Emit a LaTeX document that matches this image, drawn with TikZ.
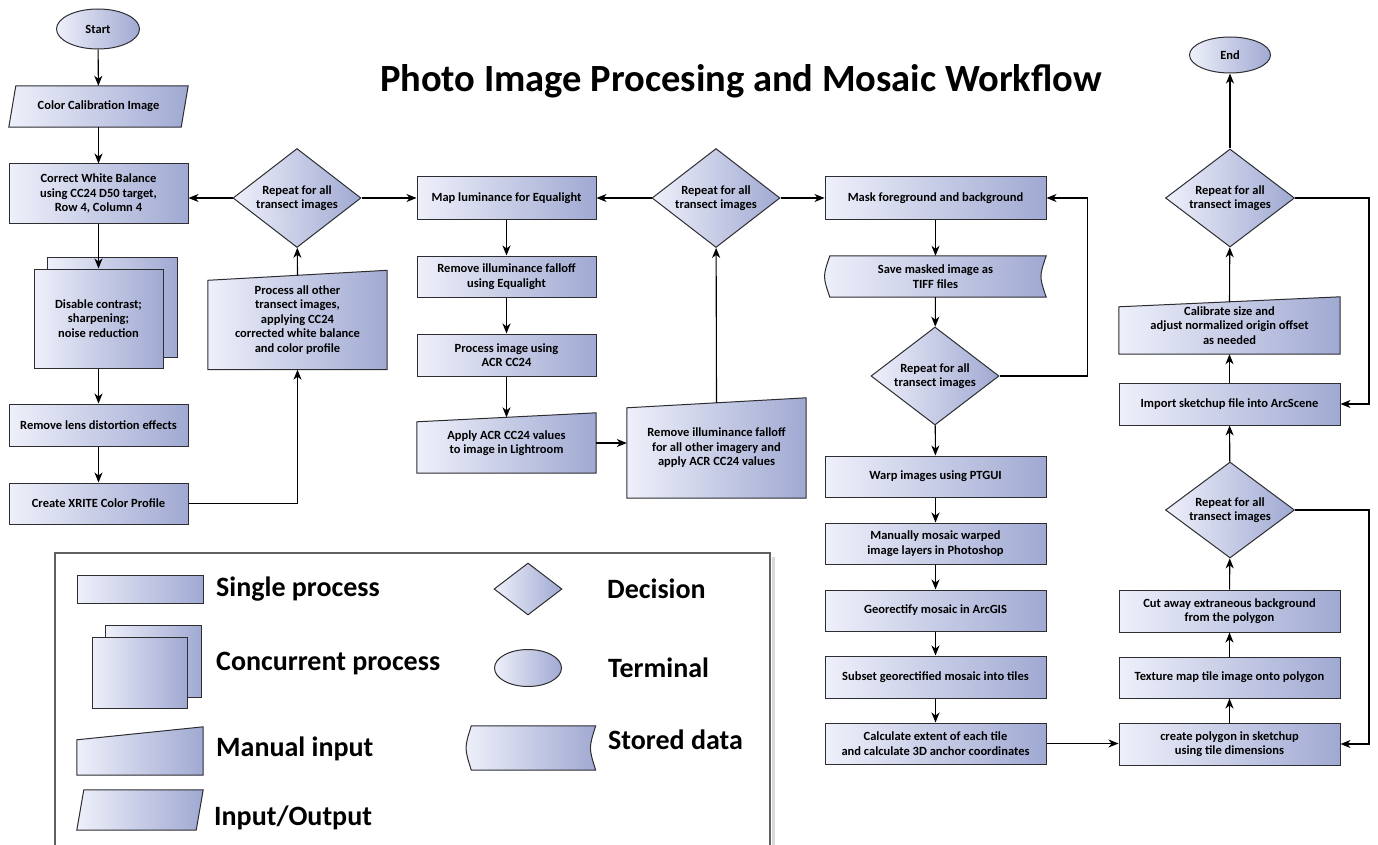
\documentclass[tikz,border=0pt]{standalone}
\usepackage{fontspec}
\setmainfont{Carlito}
\usetikzlibrary{shapes.geometric,arrows.meta}
\definecolor{boxL}{RGB}{238,240,250}
\definecolor{boxR}{RGB}{160,169,210}
\definecolor{edge}{RGB}{45,45,50}
\pgfdeclarelayer{bg}
\pgfsetlayers{bg,main}
\begin{document}
\begin{tikzpicture}[x=1pt,y=-1pt]
	\tikzstyle{shaded}=[draw=edge,line width=1pt,left color=boxL,right color=boxR]
	\tikzstyle{txt}=[font=\fontsize{12.5}{14.5}\selectfont\bfseries,align=center,inner sep=1pt]
	\tikzstyle{proc}=[rectangle,shaded,txt,minimum width=179pt]
	\tikzstyle{wproc}=[proc,minimum width=221pt]
	\tikzstyle{slot}=[rectangle,txt,minimum width=179pt]
	\tikzstyle{wslot}=[slot,minimum width=221pt]
	\tikzstyle{decision}=[diamond,shaded,txt,aspect=1.3,inner sep=0pt,minimum width=128pt,minimum height=99pt]
	\tikzstyle{terminal}=[ellipse,shaded,txt,inner sep=0pt]
	\tikzstyle{flow}=[line width=1.1pt,-{Stealth[length=10pt,width=8pt,inset=3pt]}]
	\tikzstyle{key}=[anchor=west,font=\fontsize{28}{32}\selectfont\bfseries,inner sep=0pt]
	\useasboundingbox (0,0) rectangle (1378,845);
	\node[font=\fontsize{38.5}{44}\selectfont\bfseries](title) at (741,81) {Photo Image Procesing and Mosaic Workflow};
	\node[terminal,minimum width=83pt,minimum height=40pt](start) at (98,29) {Start};
	\node[slot,minimum height=41pt](calib) at (98.5,106.5) {Color Calibration Image};
	\node[proc,minimum height=59pt](balance) at (98.5,193.5) {Correct White Balance\\using CC24 D50 target,\\Row 4, Column 4};
	\node[proc,minimum width=129pt,minimum height=99pt](contrast) at (98.5,318.5) {Disable contrast;\\sharpening;\\noise reduction};
	\node[proc,minimum height=42pt](lens) at (98.5,425) {Remove lens distortion effects};
	\node[proc,minimum height=41pt](xrite) at (98.5,503.5) {Create XRITE Color Profile};
	\node[decision](rep1) at (297,198) {Repeat for all\\transect images};
	\node[slot,minimum height=99pt](others) at (297.5,320) {Process all other\\transect images,\\applying CC24\\corrected white balance\\and color profile};
	\node[proc,minimum height=42pt](luminance) at (506.5,198) {Map luminance for Equalight};
	\node[proc,minimum height=41pt](falloff) at (506.5,276.5) {Remove illuminance falloff\\using Equalight};
	\node[proc,minimum height=42pt](acr) at (506.5,355) {Process image using\\ACR CC24};
	\node[slot,minimum height=60pt](lightroom) at (506.5,443) {Apply ACR CC24 values\\to image in Lightroom};
	\node[decision](rep2) at (716,198) {Repeat for all\\transect images};
	\node[slot,minimum height=100pt](allother) at (716.5,448) {Remove illuminance falloff\\for all other imagery and\\apply ACR CC24 values};
	\node[wproc,minimum height=42pt](mask) at (935.5,198) {Mask foreground and background};
	\node[wslot,minimum height=41pt](tiff) at (935.5,276.5) {Save masked image as\\TIFF files};
	\node[decision,minimum height=98pt](rep3) at (935,376) {Repeat for all\\transect images};
	\node[wproc,minimum height=41pt](warp) at (935.5,476.5) {Warp images using PTGUI};
	\node[wproc,minimum height=41pt](photoshop) at (935.5,543.5) {Manually mosaic warped\\image layers in Photoshop};
	\node[wproc,minimum height=41pt](georect) at (935.5,610.5) {Georectify mosaic in ArcGIS};
	\node[wproc,minimum height=42pt](subset) at (935.5,677) {Subset georectified mosaic into tiles};
	\node[wproc,minimum height=41pt](extent) at (935.5,743.5) {Calculate extent of each tile\\and calculate 3D anchor coordinates};
	\node[terminal,minimum width=81pt,minimum height=36pt](end) at (1230,55) {End};
	\node[decision,minimum width=129pt,minimum height=98pt](rep4) at (1230,198) {Repeat for all\\transect images};
	\node[wslot,minimum height=57pt](calsize) at (1229.5,325.5) {Calibrate size and\\adjust normalized origin offset\\as needed};
	\node[wproc,minimum height=42pt](arcscene) at (1229.5,404) {Import sketchup file into ArcScene};
	\node[decision,minimum width=129pt,minimum height=96pt](rep5) at (1230,510) {Repeat for all\\transect images};
	\node[wproc,minimum height=42pt](cutaway) at (1229.5,611) {Cut away extraneous background\\from the polygon};
	\node[wproc,minimum height=41pt](texture) at (1229.5,677.5) {Texture map tile image onto polygon};
	\node[wproc,minimum height=42pt](polygon) at (1229.5,744) {create polygon in sketchup\\using tile dimensions};
	\draw[gray!30,line width=3pt](773,557) -- (773,850);
	\draw[gray!75!black,line width=1.1pt](55,553) rectangle (770,870);
	\node[proc,minimum width=126pt,minimum height=28pt](kproc) at (140,589) {};
	\node[proc,minimum width=95pt,minimum height=71pt](kconc) at (139.5,672.5) {};
	\node[slot,minimum width=126pt,minimum height=48pt](kman) at (140,751) {};
	\node[slot,minimum width=126pt,minimum height=40pt](kio) at (140,810) {};
	\node[decision,minimum width=68pt,minimum height=52pt](kdec) at (528,589) {};
	\node[terminal,minimum width=67pt,minimum height=37pt](kterm) at (528,668) {};
	\node[slot,minimum width=129pt,minimum height=44pt](kstore) at (531,748) {};
	\node[key](ksingle) at (216,589) {Single process};
	\node[key](kconcur) at (216,664) {Concurrent process};
	\node[key](kmanual) at (216,749) {Manual input};
	\node[key](kinout) at (214,818) {Input/Output};
	\node[key](kdecision) at (607,589) {Decision};
	\node[key](kterminal) at (608,668) {Terminal};
	\node[key](kstored) at (608,740) {Stored data};
	\begin{pgfonlayer}{bg}
		\foreach \n in {contrast,kconc}
			\path[shaded]([shift={(14pt,11pt)}]\n.south west) rectangle ([shift={(14pt,11pt)}]\n.north east);
		\foreach \n/\d in {others/10,lightroom/9,allother/10,calsize/10,kman/13}
			\path[shaded](\n.south west) -- (\n.south east) -- (\n.north east) -- ([yshift=-\d pt]\n.north west) -- cycle;
		\foreach \n in {calib,kio}
			\path[shaded](\n.south west) -- ([xshift=-7pt]\n.south east) -- (\n.north east) -- ([xshift=7pt]\n.north west) -- cycle;
		\foreach \n in {tiff,kstore}
			\path[shaded]([xshift=5pt]\n.north west) -- (\n.north east) .. controls ([xshift=-7pt]\n.east) and ([xshift=-7pt]\n.east) .. (\n.south east) -- ([xshift=5pt]\n.south west) .. controls ([xshift=-2pt]\n.west) and ([xshift=-2pt]\n.west) .. ([xshift=5pt]\n.north west) -- cycle;
	\end{pgfonlayer}
	\draw[flow](start) -- (calib);
	\draw[flow](calib) -- (balance);
	\draw[flow](balance) -- (contrast);
	\draw[flow](contrast) -- (lens);
	\draw[flow](lens) -- (xrite);
	\draw[flow](xrite) -| (others);
	\draw[flow]([yshift=-5pt]others.north) -- (rep1);
	\draw[flow](rep1.west) -- (rep1.west -| balance.east);
	\draw[flow](rep1) -- (luminance);
	\draw[flow](luminance) -- (falloff);
	\draw[flow](falloff) -- (acr);
	\draw[flow](acr) -- ([yshift=-4.5pt]lightroom.north);
	\draw[flow](lightroom.east) -- (lightroom.east -| allother.west);
	\draw[flow]([yshift=-5pt]allother.north) -- (rep2);
	\draw[flow](rep2) -- (luminance);
	\draw[flow](rep2) -- (mask);
	\draw[flow](mask) -- (tiff);
	\draw[flow](tiff) -- (rep3);
	\draw[flow](rep3.east) -- ++(88,0) |- (mask.east);
	\draw[flow](rep3) -- (warp);
	\draw[flow](warp) -- (photoshop);
	\draw[flow](photoshop) -- (georect);
	\draw[flow](georect) -- (subset);
	\draw[flow](subset) -- (extent);
	\draw[flow](extent.east) -- (extent.east -| polygon.west);
	\draw[flow](polygon) -- (texture);
	\draw[flow](texture) -- (cutaway);
	\draw[flow](cutaway) -- (rep5);
	\draw[flow](rep5.east) -- ++(74,0) |- (polygon.east);
	\draw[flow](rep5) -- (arcscene);
	\draw[flow](arcscene) -- (calsize);
	\draw[flow]([yshift=-5pt]calsize.north) -- (rep4);
	\draw[flow](rep4.east) -- ++(74,0) |- (arcscene.east);
	\draw[flow](rep4) -- (end);
\end{tikzpicture}
\end{document}
